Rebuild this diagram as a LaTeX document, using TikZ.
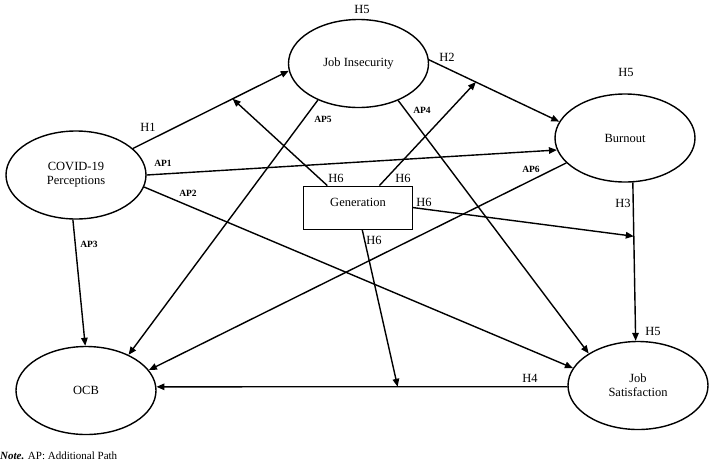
\documentclass[tikz,border=0pt]{standalone}
\usepackage{fontspec}
\setmainfont{Liberation Serif}
\usetikzlibrary{shapes.geometric,arrows.meta}
\tikzset{
  construct/.style={ellipse,draw,line width=1.4pt,minimum width=140pt,minimum height=88pt,inner sep=0pt,align=center,font=\fontsize{12.5}{14}\selectfont},
  genbox/.style={rectangle,draw,line width=0.9pt,minimum width=109pt,minimum height=43pt,inner sep=0pt},
  arr/.style={line width=1.4pt,-{Triangle[length=8pt,width=6.5pt]}},
  hlab/.style={inner sep=0pt,font=\fontsize{12.5}{13}\selectfont},
  aplab/.style={inner sep=0pt,font=\fontsize{9.5}{11}\selectfont\bfseries},
}
\begin{document}
\begin{tikzpicture}[x=1pt,y=-1pt]
\useasboundingbox (0,0) rectangle (709,461);
% constructs
\node[construct] (ji) at (358.5,63.5) {Job Insecurity};
\node[construct] (cov) at (76,175) {COVID-19\\Perceptions};
\node[construct] (bo) at (625,138) {Burnout};
\node[construct] (ocb) at (86,390.5) {OCB};
\node[construct] (js) at (638,385.5) {Job\\Satisfaction};
\node[genbox] (gen) at (357.5,207.5) {};
\node[inner sep=0pt,font=\fontsize{12.5}{14}\selectfont] (gentext) at (358,202) {Generation};
% main paths
\draw[arr] (cov.25) -- coordinate[pos=0.64] (m1) (ji.186);
\draw[arr] (ji.3) -- coordinate[pos=0.36] (m2) (bo.166);
\draw[arr] (bo.280) -- coordinate[pos=0.34] (m3) (js.93);
\draw[arr] (js.181) -- coordinate[pos=0.413] (m4) (ocb.3);
% additional paths
\draw[arr] (cov.0) -- (bo.190);
\draw[arr] (cov.-10) -- (js.165);
\draw[arr] (cov.266) -- (ocb.91);
\draw[arr] (ji.222) -- (ocb.40);
\draw[arr] (ji.-43) -- (js.147);
\draw[arr] (bo.203) -- (ocb.18);
% moderation
\draw[arr] (gen.144) -- (m1);
\draw[arr] (gen.45) -- (m2);
\draw[arr] (gen.0) -- (m3);
\draw[arr] (gen.282) -- (m4);
% labels
\node[hlab] (h5a) at (362,9) {H5};
\node[hlab] (h5b) at (626,72) {H5};
\node[hlab] (h5c) at (653,331) {H5};
\node[hlab] (h1) at (148,127) {H1};
\node[hlab] (h2) at (447,57) {H2};
\node[hlab] (h3) at (623,203) {H3};
\node[hlab] (h4) at (530,378) {H4};
\node[hlab] (h6a) at (336,178) {H6};
\node[hlab] (h6b) at (403,178) {H6};
\node[hlab] (h6c) at (424,202) {H6};
\node[hlab] (h6d) at (374,240) {H6};
\node[aplab] (ap1) at (163,163) {AP1};
\node[aplab] (ap2) at (188,193) {AP2};
\node[aplab] (ap3) at (89,244) {AP3};
\node[aplab] (ap4) at (422,110) {AP4};
\node[aplab] (ap5) at (323,119) {AP5};
\node[aplab] (ap6) at (531,169) {AP6};
\node[anchor=west,inner sep=0pt,font=\fontsize{11}{12}\selectfont] (note) at (0,456) {\textbf{\textit{Note.}} AP: Additional Path};
\end{tikzpicture}
\end{document}
